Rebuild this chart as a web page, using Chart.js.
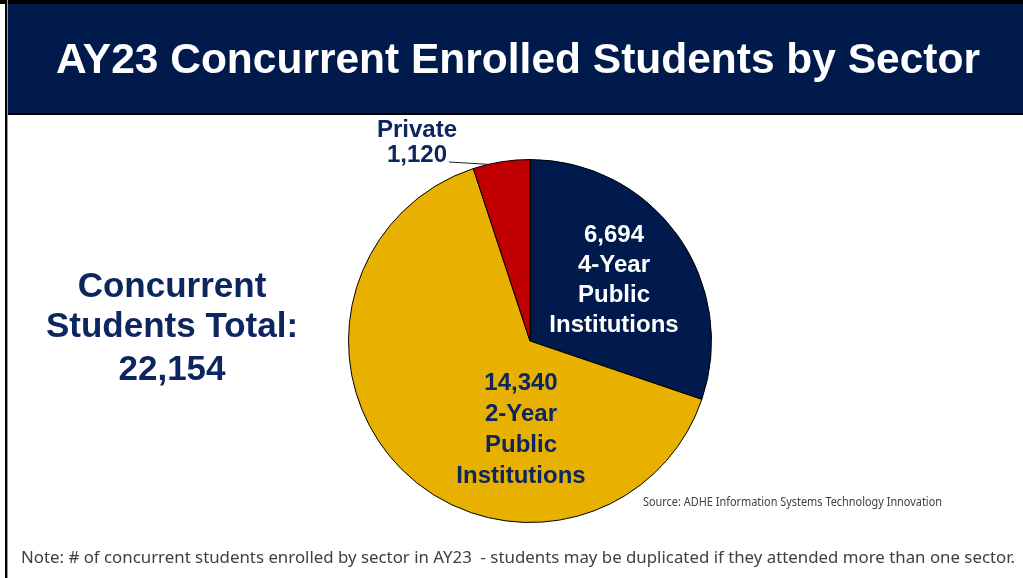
<!DOCTYPE html>
<html>
<head>
<meta charset="utf-8">
<script src="https://cdn.jsdelivr.net/npm/chart.js@4/dist/chart.umd.min.js"></script>
<style>
  html, body { margin: 0; padding: 0; background: #ffffff; }
  #pieCanvas { display: block; }
</style>
</head>
<body>
<canvas id="pieCanvas" width="1023" height="578"></canvas>
<script>
const sectors = ['4-Year Public Institutions', '2-Year Public Institutions', 'Private'];
const students = [6694, 14340, 1120];
const sectorLines = [['4-Year', 'Public', 'Institutions'], ['2-Year', 'Public', 'Institutions'], ['Private']];
const sliceColors = ['#001a4e', '#e8b100', '#c00000'];
const totalStudents = 22154;

const titleText = 'AY23 Concurrent Enrolled Students by Sector';
const totalLines = ['Concurrent', 'Students Total:', totalStudents.toLocaleString('en-US')];
const sourceText = 'Source: ADHE Information Systems Technology Innovation';
const noteText = 'Note: # of concurrent students enrolled by sector in AY23  - students may be duplicated if they attended more than one sector.';

const navyText = '#0d2660';
const boldFont = '"Liberation Sans", Arial, sans-serif';

// draw text squeezed/stretched to a given width
const fitText = (ctx, text, x, y, width) => {
  const w = ctx.measureText(text).width;
  ctx.save();
  ctx.translate(x, y);
  ctx.scale(width / w, 1);
  ctx.fillText(text, 0, 0);
  ctx.restore();
};

const slidePlugin = {
  id: 'slide',
  beforeDraw(chart) {
    const ctx = chart.ctx;
    ctx.save();
    ctx.fillStyle = '#ffffff';
    ctx.fillRect(0, 0, chart.width, chart.height);
    // title bar
    ctx.fillStyle = '#000000';
    ctx.fillRect(0, 0, chart.width, 4);
    ctx.fillRect(5, 0, 2, chart.height);
    ctx.fillStyle = '#9a9a9a';
    ctx.fillRect(7, 0, 1, chart.height);
    ctx.fillStyle = '#011a4c';
    ctx.fillRect(8, 4, chart.width - 8, 109);
    ctx.fillStyle = '#000000';
    ctx.fillRect(8, 113, chart.width - 8, 2);

    ctx.fillStyle = '#ffffff';
    ctx.textAlign = 'left';
    ctx.textBaseline = 'alphabetic';
    ctx.font = 'bold 43px ' + boldFont;
    fitText(ctx, titleText, 56, 73, 924);

    // total on the left
    ctx.fillStyle = navyText;
    ctx.font = 'bold 35px ' + boldFont;
    ctx.textAlign = 'center';
    const baselines = [297, 337, 380];
    totalLines.forEach((line, i) => ctx.fillText(line, 172, baselines[i]));

    // source + note
    ctx.fillStyle = '#404040';
    ctx.textAlign = 'left';
    ctx.font = '12px "Noto Sans", sans-serif';
    fitText(ctx, sourceText, 643, 506, 299);
    ctx.font = '17px "Noto Sans", sans-serif';
    fitText(ctx, noteText, 21, 563, 994);
    ctx.restore();
  },
  afterDatasetsDraw(chart) {
    const ctx = chart.ctx;
    const arcs = chart.getDatasetMeta(0).data;
    ctx.save();
    ctx.textAlign = 'center';
    ctx.textBaseline = 'alphabetic';
    ctx.font = 'bold 24px ' + boldFont;

    // 4-year slice
    const a0 = arcs[0];
    ctx.fillStyle = '#ffffff';
    [students[0].toLocaleString('en-US')].concat(sectorLines[0]).forEach((line, i) => {
      ctx.fillText(line, a0.x + 84, a0.y - 99 + i * 30);
    });

    // 2-year slice
    const a1 = arcs[1];
    ctx.fillStyle = navyText;
    [students[1].toLocaleString('en-US')].concat(sectorLines[1]).forEach((line, i) => {
      ctx.fillText(line, a1.x - 9, a1.y + 49 + i * 31);
    });

    // private slice, outside with leader line
    const a2 = arcs[2];
    const ang = a2.startAngle + 0.27 * (a2.endAngle - a2.startAngle);
    const px = a2.x + a2.outerRadius * Math.cos(ang);
    const py = a2.y + a2.outerRadius * Math.sin(ang);
    ctx.strokeStyle = '#222222';
    ctx.lineWidth = 1;
    ctx.beginPath();
    ctx.moveTo(a2.x - 81, a2.y - 179);
    ctx.lineTo(px, py);
    ctx.stroke();
    ctx.fillStyle = navyText;
    sectorLines[2].concat([students[2].toLocaleString('en-US')]).forEach((line, i) => {
      ctx.fillText(line, a2.x - 113, a2.y - 204 + i * 25);
    });
    ctx.restore();
  }
};

new Chart(document.querySelector('#pieCanvas').getContext('2d'), {
  type: 'pie',
  data: {
    labels: sectors,
    datasets: [{
      data: students,
      backgroundColor: sliceColors,
      borderColor: '#000000',
      borderWidth: 1
    }]
  },
  options: {
    responsive: false,
    devicePixelRatio: 1,
    animation: false,
    layout: {
      padding: { left: 348, right: 311, top: 159, bottom: 55 }
    },
    plugins: {
      legend: { display: false },
      tooltip: { enabled: false }
    }
  },
  plugins: [slidePlugin]
});
</script>
</body>
</html>
